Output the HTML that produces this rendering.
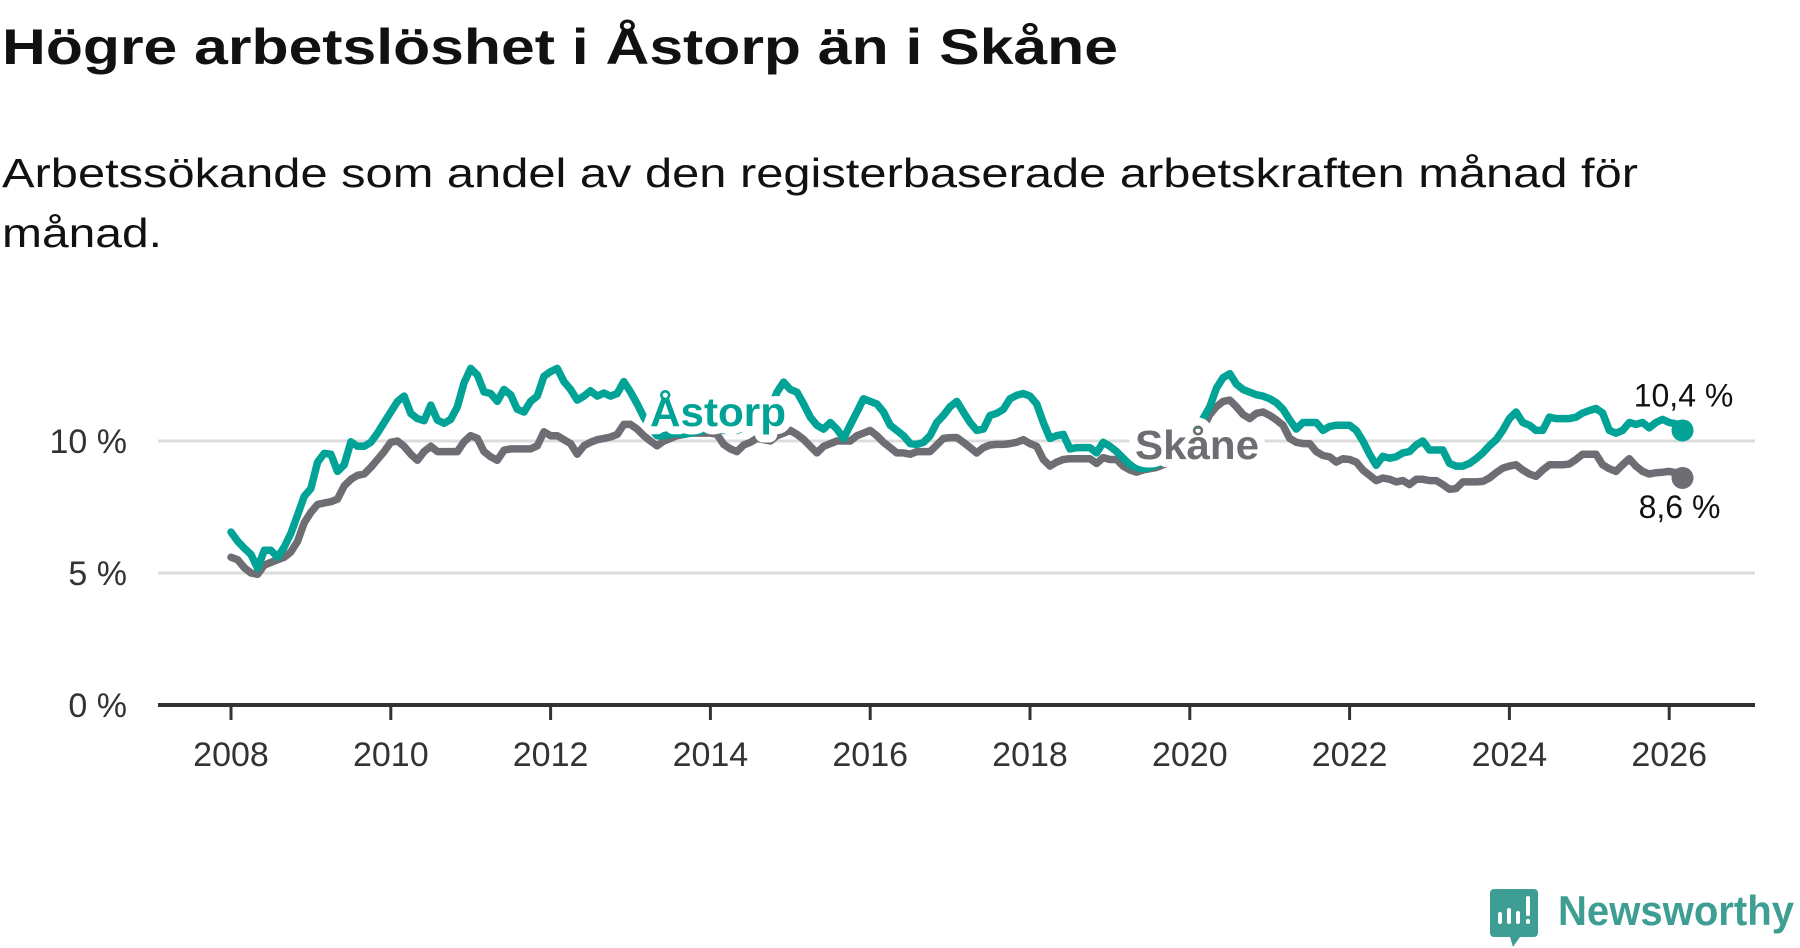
<!DOCTYPE html>
<html><head><meta charset="utf-8"><style>
html,body{margin:0;padding:0;background:#fff;}
svg{display:block;font-family:"Liberation Sans",sans-serif;}
</style></head><body>
<svg id="chart" width="1800" height="948" viewBox="0 0 1800 948" xmlns="http://www.w3.org/2000/svg">
<text x="2" y="64" font-size="50" font-weight="bold" fill="#111" textLength="1116" lengthAdjust="spacingAndGlyphs">Högre arbetslöshet i Åstorp än i Skåne</text>
<text x="2" y="187" font-size="41" fill="#111" textLength="1636" lengthAdjust="spacingAndGlyphs">Arbetssökande som andel av den registerbaserade arbetskraften månad för</text>
<text x="2" y="247" font-size="41" fill="#111" textLength="160" lengthAdjust="spacingAndGlyphs">månad.</text>
<g id="grid"></g>
<g id="yaxis"></g>
<g id="xaxis"></g>
<g id="series"></g>
<g id="labels"></g>
<g>
  <path d="M1494 889 h40 a4 4 0 0 1 4 4 v40 a4 4 0 0 1 -4 4 h-14 l-7 10 l-3 -10 h-16 a4 4 0 0 1 -4 -4 v-40 a4 4 0 0 1 4 -4z" fill="#3f9e94"/>
  <rect x="1498" y="912" width="4" height="12" rx="2" fill="#fff"/>
  <rect x="1507" y="908" width="4" height="16" rx="2" fill="#fff"/>
  <rect x="1516" y="911" width="4" height="13" rx="2" fill="#fff"/>
  <rect x="1526" y="896" width="4" height="20" rx="2" fill="#fff"/>
  <rect x="1526" y="919" width="4" height="5" rx="2" fill="#fff"/>
  <text x="1558" y="925" font-size="42" font-weight="bold" fill="#3f9e94" textLength="236" lengthAdjust="spacingAndGlyphs">Newsworthy</text>
</g>
</svg>
<script>
const yTicks = [0, 5, 10];
const yTickLabels = ["0 %", "5 %", "10 %"];
const xTicks = [2008, 2010, 2012, 2014, 2016, 2018, 2020, 2022, 2024, 2026];
const startYear = 2008; // monthly series starting January 2008
const astorp = [6.55,6.2,5.94,5.7,5.18,5.86,5.86,5.6,5.99,6.5,7.2,7.9,8.2,9.2,9.53,9.5,8.85,9.1,9.97,9.8,9.8,9.95,10.3,10.7,11.1,11.5,11.7,11.04,10.85,10.77,11.36,10.79,10.67,10.82,11.3,12.2,12.75,12.5,11.86,11.8,11.5,11.95,11.75,11.2,11.1,11.5,11.7,12.45,12.63,12.75,12.25,11.95,11.55,11.7,11.9,11.7,11.82,11.7,11.8,12.25,11.86,11.4,
10.9,10.5,10.2,10.2,10.25,10.3,10.25,10.3,10.35,10.4,10.5,10.5,10.4,10.4,10.4,10.5,10.6,10.6,10.7,11.2,11.85,12.23,11.95,11.85,11.4,10.9,10.6,10.45,10.7,10.45,10.1,10.6,11.1,11.6,11.5,11.4,11.1,10.6,10.4,10.2,9.9,9.87,9.95,10.2,10.7,10.97,11.3,11.5,11.1,10.7,10.4,10.45,10.97,11.05,11.2,11.6,11.73,11.8,11.7,11.4,10.7,10.1,10.2,10.25,9.7,9.75,9.75,9.75,9.55,9.95,9.8,9.6,9.35,9.1,9.0,8.95,9.0,9.1,9.3,9.5,9.6,9.7,9.9,10.3,10.85,11.3,12.0,12.4,12.55,12.15,11.95,11.85,11.75,11.7,11.6,11.45,11.2,10.8,10.45,10.7,10.7,10.7,10.4,10.55,10.6,10.6,10.6,10.4,10.0,9.5,9.08,9.42,9.35,9.4,9.55,9.6,9.85,10.0,9.66,9.66,9.66,9.15,9.05,9.05,9.15,9.33,9.55,9.82,10.05,10.4,10.85,11.1,10.7,10.6,10.4,10.4,10.9,10.85,10.85,10.85,10.9,11.06,11.15,11.23,11.06,10.4,10.3,10.4,10.7,10.63,10.7,10.5,10.7,10.82,10.7,10.65,10.4];
const skane = [5.6,5.5,5.2,5.0,4.95,5.3,5.4,5.5,5.6,5.8,6.2,6.9,7.3,7.6,7.65,7.7,7.8,8.3,8.55,8.7,8.75,9.0,9.3,9.6,9.95,10.0,9.8,9.5,9.27,9.6,9.8,9.6,9.6,9.6,9.6,9.97,10.2,10.1,9.6,9.4,9.27,9.65,9.7,9.7,9.7,9.7,9.82,10.35,10.2,10.2,10.05,9.9,9.5,9.82,9.95,10.05,10.1,10.15,10.25,10.63,10.63,10.45,
10.2,10.0,9.82,10.0,10.1,10.2,10.25,10.3,10.3,10.3,10.3,10.25,9.87,9.7,9.6,9.85,9.95,10.1,10.05,10.0,10.2,10.3,10.4,10.25,10.06,9.8,9.55,9.8,9.9,10.0,10.0,10.0,10.2,10.3,10.4,10.2,9.95,9.75,9.55,9.55,9.5,9.6,9.6,9.6,9.85,10.1,10.13,10.13,9.95,9.75,9.55,9.75,9.85,9.87,9.87,9.9,9.95,10.05,9.9,9.8,9.3,9.05,9.2,9.3,9.33,9.33,9.33,9.33,9.15,9.37,9.3,9.3,9.05,8.9,8.82,8.9,8.95,9.0,9.1,9.2,9.3,9.4,9.6,9.9,10.5,11.0,11.3,11.5,11.55,11.3,11.0,10.85,11.05,11.1,10.97,10.8,10.6,10.1,9.95,9.9,9.9,9.6,9.45,9.4,9.2,9.33,9.3,9.2,8.9,8.7,8.5,8.6,8.55,8.45,8.5,8.35,8.55,8.55,8.5,8.5,8.35,8.17,8.2,8.45,8.45,8.45,8.47,8.6,8.8,8.97,9.05,9.1,8.9,8.75,8.66,8.9,9.1,9.1,9.1,9.13,9.3,9.5,9.5,9.5,9.1,8.95,8.85,9.1,9.33,9.05,8.85,8.75,8.8,8.82,8.85,8.8,8.6];
const seriesNames = ["Åstorp", "Skåne"];

const NS = "http://www.w3.org/2000/svg";
const X0 = 231, PX_PER_YEAR = 79.9, Y0 = 705, PX_PER_PCT = 26.4;
function xScale(year){ return X0 + (year - 2008) * PX_PER_YEAR; }
function yScale(v){ return Y0 - v * PX_PER_PCT; }
function monthYear(i){ return startYear + i / 12; }
function mk(tag, attrs, parent){ const e = document.createElementNS(NS, tag); for (const k in attrs) e.setAttribute(k, attrs[k]); parent.appendChild(e); return e; }
function fmt(v){ return v.toFixed(1).replace(".", ",") + " %"; }

const grid = document.getElementById("grid"), yax = document.getElementById("yaxis"), xax = document.getElementById("xaxis");
yTicks.forEach((t, i) => {
  if (t > 0) {
    const g = mk("line", {x1:158, x2:1755, y1:yScale(t), y2:yScale(t), stroke:"#dcdcdc", "stroke-width":3}, grid);
    
    
  }
  const lb = mk("text", {x:127, y:yScale(t)+12, "font-size":34, fill:"#333", "text-anchor":"end"}, yax);
  lb.textContent = yTickLabels[i];
  
  
});
const axisLine = mk("line", {x1:158, x2:1755, y1:Y0, y2:Y0, stroke:"#333", "stroke-width":4}, xax);


xTicks.forEach(t => {
  const tk = mk("line", {x1:xScale(t), x2:xScale(t), y1:Y0, y2:Y0+15, stroke:"#333", "stroke-width":3}, xax);
  
  
  const lb = mk("text", {x:xScale(t), y:766, "font-size":34, fill:"#333", "text-anchor":"middle"}, xax);
  lb.textContent = String(t);
  
  
});

const ser = document.getElementById("series");
function drawLine(vals, color, name){
  const d = vals.map((v,i) => (i ? "L" : "M") + xScale(monthYear(i)).toFixed(1) + " " + yScale(v).toFixed(1)).join(" ");
  const p = mk("path", {d:d, fill:"none", stroke:color, "stroke-width":7.5, "stroke-linejoin":"round", "stroke-linecap":"round"}, ser);
  
  
  const n = vals.length - 1;
  const c = mk("circle", {cx:xScale(monthYear(n)), cy:yScale(vals[n]), r:11, fill:color}, ser);
  
  
}
drawLine(skane, "#6e6d73", "skane");
drawLine(astorp, "#00a396", "astorp");

const lab = document.getElementById("labels");
function halo(txt, x, y, w, color, name){
  const bg = mk("text", {x:x, y:y, "font-size":41, "font-weight":"bold", fill:"#fff", stroke:"#fff", "stroke-width":16, "stroke-linejoin":"round", textLength:w, lengthAdjust:"spacingAndGlyphs"}, lab);
  bg.textContent = txt;
  
  
  const t = mk("text", {x:x, y:y, "font-size":41, "font-weight":"bold", fill:color, textLength:w, lengthAdjust:"spacingAndGlyphs"}, lab);
  t.textContent = txt;
  
  
}
halo(seriesNames[0], 650, 426, 136, "#00a396", "astorp-label");
halo(seriesNames[1], 1135, 459, 124, "#6e6d73", "skane-label");
const nA = astorp.length - 1, nS = skane.length - 1;
const ea = mk("text", {x:xScale(monthYear(nA))+1, y:yScale(astorp[nA])-24, "font-size":32, fill:"#111", "text-anchor":"middle"}, lab);
ea.textContent = fmt(astorp[nA]);


const es = mk("text", {x:xScale(monthYear(nS))-3, y:yScale(skane[nS])+40, "font-size":32, fill:"#111", "text-anchor":"middle"}, lab);
es.textContent = fmt(skane[nS]);


</script>
</body></html>
